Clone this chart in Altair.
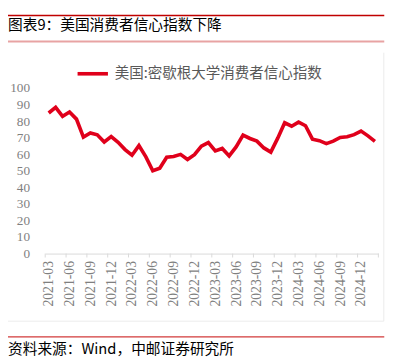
import json
import altair as alt
import pandas as pd

months = [
    "2021-03", "2021-04", "2021-05", "2021-06", "2021-07", "2021-08", "2021-09", "2021-10", "2021-11", "2021-12",
    "2022-01", "2022-02", "2022-03", "2022-04", "2022-05", "2022-06", "2022-07", "2022-08", "2022-09", "2022-10", "2022-11", "2022-12",
    "2023-01", "2023-02", "2023-03", "2023-04", "2023-05", "2023-06", "2023-07", "2023-08", "2023-09", "2023-10", "2023-11", "2023-12",
    "2024-01", "2024-02", "2024-03", "2024-04", "2024-05", "2024-06", "2024-07", "2024-08", "2024-09", "2024-10", "2024-11", "2024-12",
    "2025-01", "2025-02",
]
sentiment = [
    84.9, 88.3, 82.9, 85.5, 81.2, 70.3, 72.8, 71.7, 67.4, 70.6,
    67.2, 62.8, 59.4, 65.2, 58.4, 50.0, 51.5, 58.2, 58.6, 59.9, 56.8, 59.7,
    64.9, 67.0, 62.0, 63.5, 59.0, 64.4, 71.6, 69.5, 67.9, 63.8, 61.3, 69.7,
    79.0, 76.9, 79.4, 77.2, 69.1, 68.2, 66.4, 67.9, 70.1, 70.5, 71.8, 74.0,
    71.1, 67.8,
]
series_name = "美国:密歇根大学消费者信心指数"
title_text = "图表9：美国消费者信心指数下降"
source_text = "资料来源：Wind，中邮证券研究所"
y_ticks = list(range(0, 101, 10))
label_idx = list(range(0, 48, 3))
tick_pos = [i - 0.5 for i in range(0, 49, 3)]

df = pd.DataFrame({"i": list(range(len(months))), "v": sentiment, "s": [series_name] * len(months)})
ticks_df = pd.DataFrame({"i": tick_pos})

W, H = 340, 169
xscale = alt.Scale(domain=[-0.5, 47.5], nice=False, zero=False)
xaxis = alt.Axis(values=label_idx, labelExpr=json.dumps(months) + "[datum.value]",
                 labelAngle=-90, ticks=False, tickSize=0, grid=False,
                 domainColor="#d9d9d9", domainWidth=1, labelPadding=7,
                 labelFont="Liberation Serif", labelFontSize=14, labelColor="#7f7f7f")

line = alt.Chart(df).mark_line(strokeWidth=3.7, strokeJoin="miter").encode(
    x=alt.X("i:Q", scale=xscale, title=None, axis=xaxis),
    y=alt.Y("v:Q", scale=alt.Scale(domain=[0, 100], nice=False), title=None,
            axis=alt.Axis(values=y_ticks, ticks=False, tickSize=0, grid=False, domain=False,
                          labelPadding=16, labelFont="Liberation Serif", labelFontSize=13.5,
                          labelColor="#7f7f7f")),
    color=alt.Color("s:N", scale=alt.Scale(domain=[series_name], range=["#e0001b"]),
                    legend=alt.Legend(title=None, orient="none", legendX=31, legendY=-32,
                                      symbolType="stroke", symbolSize=961, symbolStrokeWidth=3.7,
                                      labelFont="Noto Sans CJK SC", labelFontSize=14.8, labelLimit=0,
                                      labelColor="#595959", labelOffset=5, padding=0)),
)

xticks = alt.Chart(ticks_df).mark_rule(color="#d9d9d9", strokeWidth=1).encode(
    x=alt.X("i:Q", scale=xscale, title=None, axis=xaxis),
    y=alt.value(H),
    y2=alt.value(H + 4),
)

one = alt.Data(values=[{"a": 1}])
top_rule = alt.Chart(one).mark_rule(color="#c00000", strokeWidth=1.5).encode(
    x=alt.value(-38), x2=alt.value(346), y=alt.value(-74))
pink_rule = alt.Chart(one).mark_rule(color="#e8a3a3", strokeWidth=2).encode(
    x=alt.value(-38), x2=alt.value(346), y=alt.value(-47.5))
foot_rule = alt.Chart(one).mark_rule(color="#d23a3a", strokeWidth=1.5).encode(
    x=alt.value(-38), x2=alt.value(346), y=alt.value(254))
right_border = alt.Chart(one).mark_rule(color="#ececec", strokeWidth=1).encode(
    x=alt.value(345.5), y=alt.value(-36), y2=alt.value(238))
bottom_border = alt.Chart(one).mark_rule(color="#ececec", strokeWidth=1).encode(
    x=alt.value(-38), x2=alt.value(345.5), y=alt.value(238))
title = alt.Chart(one).mark_text(align="left", baseline="middle", font="Noto Sans CJK SC",
                                 fontSize=15, color="#000000").encode(
    x=alt.value(-38), y=alt.value(-64), text=alt.value(title_text))
source = alt.Chart(one).mark_text(align="left", baseline="middle", font="Noto Sans CJK SC",
                                  fontSize=15, color="#000000").encode(
    x=alt.value(-38), y=alt.value(266), text=alt.value(source_text))

chart = alt.layer(right_border, bottom_border, line, xticks, top_rule, pink_rule, foot_rule,
                  title, source).properties(
    width=W, height=H,
    autosize=alt.AutoSizeParams(type="none"),
    padding={"left": 38, "top": 78, "right": 19, "bottom": 106},
    background="#ffffff",
).configure_view(stroke=None)

chart.save("out.html", embed_options={"renderer": "svg", "actions": False})
